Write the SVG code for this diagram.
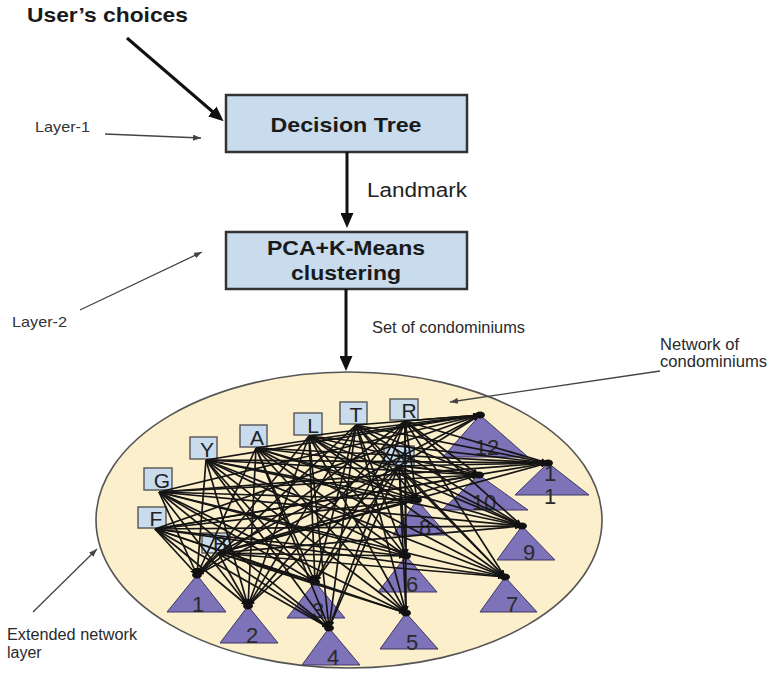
<svg xmlns="http://www.w3.org/2000/svg" width="769" height="674" viewBox="0 0 769 674">
  <style>
    text { font-family: "Liberation Sans", Arial, sans-serif; fill: #222; }
    .title { font-weight: bold; font-size: 21px; fill: #1a1a1a; }
    .box { fill: #c8dcee; stroke: #333; stroke-width: 2.5; }
    .note { font-size: 15px; fill: #333; }
    .lbl { font-size: 16px; fill: #2a2a2a; }
    .sq rect { fill: #c8dcee; stroke: #555; stroke-width: 1.4; }
    .sq text { font-size: 21px; text-anchor: middle; fill: #222; }
    .tri polygon { fill: #7e72b8; stroke: #3d3766; stroke-width: 1; }
    .tri ellipse { fill: #111; }
    .tri text { font-size: 22px; text-anchor: middle; fill: #2a2a2a; }
    .thick { stroke: #111; stroke-width: 3; fill: none; marker-end: url(#big); }
    .thin { stroke: #444; stroke-width: 1.3; fill: none; marker-end: url(#small); }
    .mesh line { stroke: #151515; stroke-width: 1.7; marker-end: url(#head); }
  </style>
  <defs>
    <marker id="big" viewBox="0 0 15 13" refX="1" refY="6.5" markerWidth="15" markerHeight="13" markerUnits="userSpaceOnUse" orient="auto">
      <path d="M0,0 L15,6.5 L0,13 z" fill="#111"/>
    </marker>
    <marker id="small" viewBox="0 0 8 6" refX="8" refY="3" markerWidth="8" markerHeight="6" markerUnits="userSpaceOnUse" orient="auto">
      <path d="M0,0 L8,3 L0,6 z" fill="#444"/>
    </marker>
    <marker id="head" viewBox="0 0 10 8" refX="10" refY="4" markerWidth="7" markerHeight="5.6" markerUnits="userSpaceOnUse" orient="auto">
      <path d="M0,0 L10,4 L0,8 z" fill="#111"/>
    </marker>
  </defs>

  <rect width="769" height="674" fill="#fff"/>

  <!-- outer layer -->
  <g id="network-layer">
    <ellipse cx="349" cy="520" rx="253" ry="148" fill="#fcefcb" stroke="#555" stroke-width="1.6"/>
  </g>

  <!-- process boxes -->
  <g id="decision-tree">
    <rect class="box" x="226" y="95" width="241" height="57"/>
    <text class="title" x="346" y="132" text-anchor="middle" textLength="151" lengthAdjust="spacingAndGlyphs">Decision Tree</text>
  </g>
  <g id="pca-kmeans">
    <rect class="box" x="226" y="232" width="241" height="57"/>
    <text class="title" x="346" y="255" text-anchor="middle" textLength="158" lengthAdjust="spacingAndGlyphs">PCA+K-Means</text>
    <text class="title" x="346" y="280" text-anchor="middle" textLength="110" lengthAdjust="spacingAndGlyphs">clustering</text>
  </g>

  <!-- free labels -->
  <g id="labels">
    <text class="title" x="27" y="22" textLength="161" lengthAdjust="spacingAndGlyphs">User’s choices</text>
    <text x="367" y="197" font-size="19.5" fill="#2a2a2a" textLength="100" lengthAdjust="spacingAndGlyphs">Landmark</text>
    <text class="note" x="35" y="132" textLength="55" lengthAdjust="spacingAndGlyphs">Layer-1</text>
    <text class="note" x="12" y="327" textLength="55" lengthAdjust="spacingAndGlyphs">Layer-2</text>
    <text class="lbl" x="372" y="333" textLength="153" lengthAdjust="spacingAndGlyphs">Set of condominiums</text>
    <text class="lbl" x="660" y="350" font-size="16.5" textLength="79" lengthAdjust="spacingAndGlyphs">Network of</text>
    <text class="lbl" x="660" y="367" font-size="16.5" textLength="107" lengthAdjust="spacingAndGlyphs">condominiums</text>
    <text class="lbl" x="7" y="640" textLength="130" lengthAdjust="spacingAndGlyphs">Extended network</text>
    <text class="lbl" x="7" y="658">layer</text>
  </g>

  <!-- landmark nodes -->
  <g id="node-G" class="sq"><rect x="144" y="468" width="28" height="22"/><text x="162" y="488">G</text></g>
  <g id="node-Y" class="sq"><rect x="190" y="437" width="27" height="22"/><text x="207" y="457">Y</text></g>
  <g id="node-A" class="sq"><rect x="240" y="425" width="27" height="22"/><text x="257" y="445">A</text></g>
  <g id="node-L" class="sq"><rect x="294" y="413" width="28" height="22"/><text x="313" y="433">L</text></g>
  <g id="node-T" class="sq"><rect x="340" y="402" width="27" height="22"/><text x="356" y="422">T</text></g>
  <g id="node-R" class="sq"><rect x="390" y="399" width="28" height="21"/><text x="409" y="418">R</text></g>
  <g id="node-F" class="sq"><rect x="138" y="507" width="28" height="21"/><text x="156" y="526">F</text></g>
  <g id="node-X" class="sq"><rect x="384" y="446" width="30" height="20"/><text x="401" y="464">X</text></g>
  <g id="node-B" class="sq"><rect x="202" y="533" width="28" height="20"/><text x="220" y="551">B</text></g>

  <!-- condominium nodes -->
  <g id="condo-1" class="tri"><polygon points="197,575 226,612 167,612"/><ellipse cx="197" cy="575" rx="5" ry="3.5"/><text x="198" y="612">1</text></g>
  <g id="condo-2" class="tri"><polygon points="248,606 278,643 220,643"/><ellipse cx="248" cy="606" rx="5" ry="3.5"/><text x="252" y="643">2</text></g>
  <g id="condo-3" class="tri"><polygon points="315,582 345,618 287,618"/><ellipse cx="315" cy="582" rx="5" ry="3.5"/><text x="318" y="618">3</text></g>
  <g id="condo-4" class="tri"><polygon points="329,628 360,665 302,665"/><ellipse cx="329" cy="628" rx="5" ry="3.5"/><text x="333" y="665">4</text></g>
  <g id="condo-5" class="tri"><polygon points="406,613 438,649 380,649"/><ellipse cx="406" cy="613" rx="5" ry="3.5"/><text x="412" y="650">5</text></g>
  <g id="condo-6" class="tri"><polygon points="406,556 437,592 378,592"/><ellipse cx="406" cy="556" rx="5" ry="3.5"/><text x="412" y="592">6</text></g>
  <g id="condo-7" class="tri"><polygon points="505,577 537,612 480,612"/><ellipse cx="505" cy="577" rx="5" ry="3.5"/><text x="512" y="612">7</text></g>
  <g id="condo-8" class="tri"><polygon points="417,500 447,535 393,535"/><ellipse cx="417" cy="500" rx="5" ry="3.5"/><text x="425" y="535">8</text></g>
  <g id="condo-9" class="tri"><polygon points="522,526 555,560 497,560"/><ellipse cx="522" cy="526" rx="5" ry="3.5"/><text x="529" y="560">9</text></g>
  <g id="condo-10" class="tri"><polygon points="479,475 528,510 442,510"/><ellipse cx="479" cy="475" rx="5" ry="3.5"/><text x="484" y="510" font-size="19">10</text></g>
  <g id="condo-11" class="tri"><polygon points="548,463 589,495 515,495"/><ellipse cx="548" cy="463" rx="5" ry="3.5"/><text font-size="14"><tspan x="550" y="481">1</tspan><tspan x="550" y="504">1</tspan></text></g>
  <g id="condo-12" class="tri"><polygon points="480,415 528,457 443,457"/><ellipse cx="480" cy="415" rx="5" ry="3.5"/><text x="487" y="455" font-size="19">12</text></g>

  <!-- connectors -->
  <g id="connectors">
    <line class="thick" x1="127" y1="38" x2="213" y2="112"/>
    <line class="thick" x1="347" y1="152" x2="347" y2="214"/>
    <line class="thick" x1="346" y1="289" x2="346" y2="357"/>
    <line class="thin" x1="105" y1="134" x2="201" y2="138"/>
    <line class="thin" x1="80" y1="310" x2="202" y2="252"/>
    <line class="thin" x1="660" y1="371" x2="450" y2="402"/>
    <line class="thin" x1="33" y1="612" x2="97" y2="549"/>

    <g class="mesh">
      <!-- G -->
      <line x1="159" y1="492" x2="197" y2="575"/><line x1="159" y1="492" x2="248" y2="606"/><line x1="159" y1="492" x2="315" y2="582"/>
      <line x1="159" y1="492" x2="329" y2="628"/><line x1="159" y1="492" x2="406" y2="613"/><line x1="159" y1="492" x2="406" y2="556"/>
      <line x1="159" y1="492" x2="505" y2="577"/><line x1="159" y1="492" x2="417" y2="500"/><line x1="159" y1="492" x2="522" y2="526"/>
      <line x1="159" y1="492" x2="479" y2="475"/><line x1="159" y1="492" x2="548" y2="463"/><line x1="159" y1="492" x2="480" y2="415"/>
      <!-- Y -->
      <line x1="206" y1="460" x2="197" y2="575"/><line x1="206" y1="460" x2="248" y2="606"/><line x1="206" y1="460" x2="315" y2="582"/>
      <line x1="206" y1="460" x2="329" y2="628"/><line x1="206" y1="460" x2="406" y2="613"/><line x1="206" y1="460" x2="406" y2="556"/>
      <line x1="206" y1="460" x2="505" y2="577"/><line x1="206" y1="460" x2="417" y2="500"/><line x1="206" y1="460" x2="522" y2="526"/>
      <line x1="206" y1="460" x2="479" y2="475"/><line x1="206" y1="460" x2="548" y2="463"/><line x1="206" y1="460" x2="480" y2="415"/>
      <!-- A -->
      <line x1="256" y1="448" x2="197" y2="575"/><line x1="256" y1="448" x2="248" y2="606"/><line x1="256" y1="448" x2="315" y2="582"/>
      <line x1="256" y1="448" x2="329" y2="628"/><line x1="256" y1="448" x2="406" y2="613"/><line x1="256" y1="448" x2="406" y2="556"/>
      <line x1="256" y1="448" x2="505" y2="577"/><line x1="256" y1="448" x2="417" y2="500"/><line x1="256" y1="448" x2="522" y2="526"/>
      <line x1="256" y1="448" x2="479" y2="475"/><line x1="256" y1="448" x2="548" y2="463"/><line x1="256" y1="448" x2="480" y2="415"/>
      <!-- L -->
      <line x1="309" y1="436" x2="197" y2="575"/><line x1="309" y1="436" x2="248" y2="606"/><line x1="309" y1="436" x2="315" y2="582"/>
      <line x1="309" y1="436" x2="329" y2="628"/><line x1="309" y1="436" x2="406" y2="613"/><line x1="309" y1="436" x2="406" y2="556"/>
      <line x1="309" y1="436" x2="505" y2="577"/><line x1="309" y1="436" x2="417" y2="500"/><line x1="309" y1="436" x2="522" y2="526"/>
      <line x1="309" y1="436" x2="479" y2="475"/><line x1="309" y1="436" x2="548" y2="463"/><line x1="309" y1="436" x2="480" y2="415"/>
      <!-- T -->
      <line x1="356" y1="425" x2="197" y2="575"/><line x1="356" y1="425" x2="248" y2="606"/><line x1="356" y1="425" x2="315" y2="582"/>
      <line x1="356" y1="425" x2="329" y2="628"/><line x1="356" y1="425" x2="406" y2="613"/><line x1="356" y1="425" x2="406" y2="556"/>
      <line x1="356" y1="425" x2="505" y2="577"/><line x1="356" y1="425" x2="417" y2="500"/><line x1="356" y1="425" x2="522" y2="526"/>
      <line x1="356" y1="425" x2="479" y2="475"/><line x1="356" y1="425" x2="548" y2="463"/><line x1="356" y1="425" x2="480" y2="415"/>
      <!-- R -->
      <line x1="405" y1="421" x2="197" y2="575"/><line x1="405" y1="421" x2="248" y2="606"/><line x1="405" y1="421" x2="315" y2="582"/>
      <line x1="405" y1="421" x2="329" y2="628"/><line x1="405" y1="421" x2="406" y2="613"/><line x1="405" y1="421" x2="406" y2="556"/>
      <line x1="405" y1="421" x2="505" y2="577"/><line x1="405" y1="421" x2="417" y2="500"/><line x1="405" y1="421" x2="522" y2="526"/>
      <line x1="405" y1="421" x2="479" y2="475"/><line x1="405" y1="421" x2="548" y2="463"/><line x1="405" y1="421" x2="480" y2="415"/>
      <!-- F -->
      <line x1="155" y1="529" x2="197" y2="575"/><line x1="155" y1="529" x2="248" y2="606"/><line x1="155" y1="529" x2="315" y2="582"/>
      <line x1="155" y1="529" x2="329" y2="628"/><line x1="155" y1="529" x2="406" y2="613"/><line x1="155" y1="529" x2="406" y2="556"/>
      <line x1="155" y1="529" x2="505" y2="577"/><line x1="155" y1="529" x2="417" y2="500"/><line x1="155" y1="529" x2="522" y2="526"/>
      <line x1="155" y1="529" x2="479" y2="475"/><line x1="155" y1="529" x2="548" y2="463"/><line x1="155" y1="529" x2="480" y2="415"/>
      <!-- X -->
      <line x1="399" y1="466" x2="197" y2="575"/><line x1="399" y1="466" x2="248" y2="606"/><line x1="399" y1="466" x2="315" y2="582"/>
      <line x1="399" y1="466" x2="329" y2="628"/><line x1="399" y1="466" x2="406" y2="613"/><line x1="399" y1="466" x2="406" y2="556"/>
      <line x1="399" y1="466" x2="505" y2="577"/><line x1="399" y1="466" x2="417" y2="500"/><line x1="399" y1="466" x2="522" y2="526"/>
      <line x1="399" y1="466" x2="479" y2="475"/><line x1="399" y1="466" x2="548" y2="463"/><line x1="399" y1="466" x2="480" y2="415"/>
      <!-- B -->
      <line x1="218" y1="553" x2="197" y2="575"/><line x1="218" y1="553" x2="248" y2="606"/><line x1="218" y1="553" x2="315" y2="582"/>
      <line x1="218" y1="553" x2="329" y2="628"/><line x1="218" y1="553" x2="406" y2="613"/><line x1="218" y1="553" x2="406" y2="556"/>
      <line x1="218" y1="553" x2="505" y2="577"/><line x1="218" y1="553" x2="417" y2="500"/><line x1="218" y1="553" x2="522" y2="526"/>
      <line x1="218" y1="553" x2="479" y2="475"/><line x1="218" y1="553" x2="548" y2="463"/><line x1="218" y1="553" x2="480" y2="415"/>
    </g>
  </g>
</svg>
